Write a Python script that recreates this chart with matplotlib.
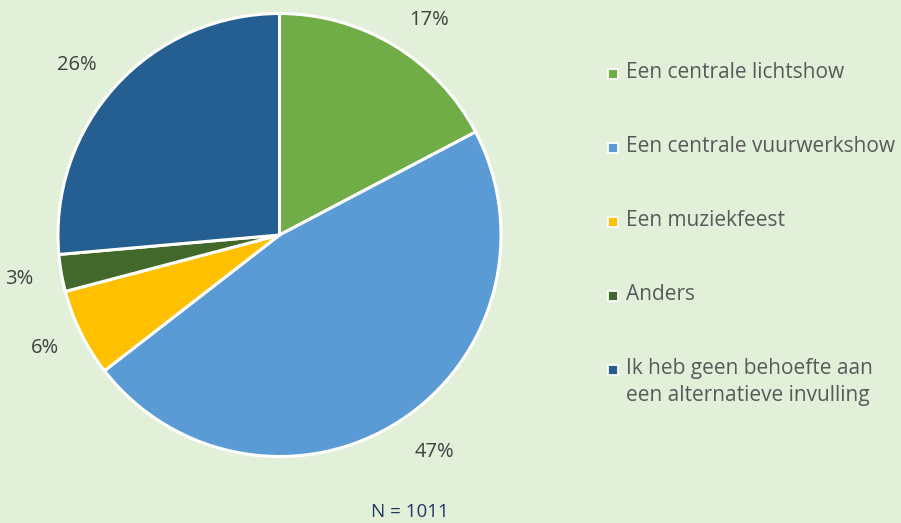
import matplotlib
matplotlib.use("Agg")
import matplotlib.pyplot as plt

categories = ["Een centrale lichtshow", "Een centrale vuurwerkshow", "Een muziekfeest",
              "Anders", "Ik heb geen behoefte aan\neen alternatieve invulling"]
values = [17.3, 47.2, 6.4, 2.7, 26.4]
colors = ["#70AD47", "#5B9BD5", "#FFC000", "#43682B", "#255E91"]
note = "N = 1011"

W, H = 901, 523
bg = "#E2F0D9"
plt.rcParams['font.family'] = ['Open Sans', 'DejaVu Sans']
fig = plt.figure(figsize=(W/100, H/100), dpi=100, facecolor=bg)

cx, cy, r = 279.5, 235, 221.5
ax = fig.add_axes([(cx-r)/W, (H-cy-r)/H, 2*r/W, 2*r/H])
ax.set_facecolor(bg)
wedges, texts, autotexts = ax.pie(values, colors=colors, startangle=90, counterclock=False,
                                  autopct='%.0f%%', pctdistance=1.19,
                                  wedgeprops=dict(edgecolor='white', linewidth=2.2),
                                  textprops=dict(color='#404040', fontsize=14.5))
# best-fit style nudges of the percentage labels (pixels: right, down)
nudges = [(13, 11), (12, -5), (2, -4), (-1, -1), (-8, 8)]
for t, (dx, dy) in zip(autotexts, nudges):
    x, y = t.get_position()
    t.set_position((x + dx / r, y - dy / r))
ax.set_xlim(-1, 1)
ax.set_ylim(-1, 1)
ax.set_aspect('equal')
ax.axis('off')

# legend drawn as marker + text rows
lax = fig.add_axes([0, 0, 1, 1], facecolor='none')
lax.set_xlim(0, W)
lax.set_ylim(H, 0)
lax.axis('off')
row0, pitch = 74, 74
for i, (lab, c) in enumerate(zip(categories, colors)):
    y = row0 + i * pitch
    lax.plot([613], [y], marker='s', linestyle='none', markersize=7.5,
             markerfacecolor=c, markeredgecolor='white', markeredgewidth=1.3)
    lax.text(626, y - 12, lab, ha='left', va='top', color='#595959', fontsize=15,
             linespacing=1.4)

fig.text(410/W, 1-512/H, note, ha='center', va='center', color='#1F3864', fontsize=13.5)

fig.savefig("out.png", dpi=100, facecolor=bg)
